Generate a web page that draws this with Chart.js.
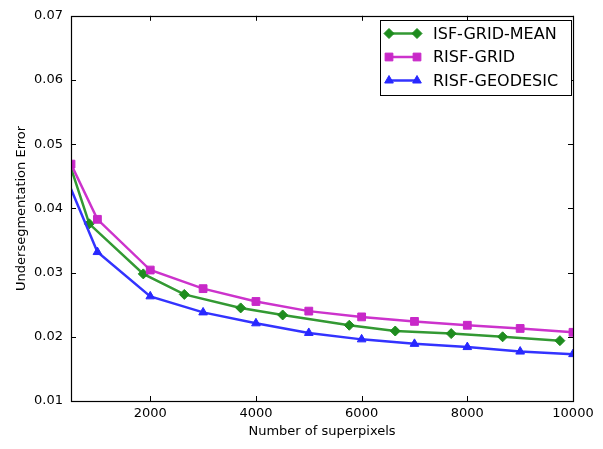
<!DOCTYPE html>
<html>
<head>
<meta charset="utf-8">
<script src="https://cdn.jsdelivr.net/npm/chart.js@4.4.1/dist/chart.umd.min.js"></script>
<style>
html,body{margin:0;padding:0;background:#fff;}
#wrap{width:603px;height:449px;position:relative;}
</style>
</head>
<body>
<div id="wrap"><canvas id="c" width="603" height="449"></canvas></div>
<script>
// ---- data ----
const seriesNames = ["ISF-GRID-MEAN", "RISF-GRID", "RISF-GEODESIC"];
const isfX  = [400, 846, 1868, 2644, 3711, 4506, 5766, 6636, 7695, 8668, 9752];
const isfY  = [0.0488, 0.0376, 0.0298, 0.0266, 0.0245, 0.0234, 0.0218, 0.0209, 0.0205, 0.0200, 0.0194];
const risfGridX = [500, 1000, 2000, 3000, 4000, 5000, 6000, 7000, 8000, 9000, 10000];
const risfGridY = [0.0469, 0.0383, 0.0304, 0.0275, 0.0255, 0.0240, 0.0231, 0.0224, 0.0218, 0.0213, 0.0207];
const risfGeoX  = [400, 1000, 2000, 3000, 4000, 5000, 6000, 7000, 8000, 9000, 10000];
const risfGeoY  = [0.0450, 0.0332, 0.0263, 0.0238, 0.0221, 0.0206, 0.0196, 0.0189, 0.0184, 0.0177, 0.0173];
const xTicks = [2000, 4000, 6000, 8000, 10000];
const yTicks = [0.01, 0.02, 0.03, 0.04, 0.05, 0.06, 0.07];

const FONT = "'DejaVu Sans', sans-serif";
const colors = ["rgb(51,153,51)", "rgb(204,51,204)", "rgb(51,51,255)"];
const markerColors = ["rgb(30,140,30)", "rgb(200,40,200)", "rgb(40,40,255)"];
const styles = ["rectRot", "rect", "triangle"];
const radii = [5, 5.5, 5];

function pts(xs, ys){ return xs.map((x,i)=>({x:x, y:ys[i]})); }

const datasets = [
  {label: seriesNames[0], data: pts(isfX, isfY)},
  {label: seriesNames[1], data: pts(risfGridX, risfGridY)},
  {label: seriesNames[2], data: pts(risfGeoX, risfGeoY)}
].map((d,i)=>Object.assign(d,{
  showLine:true, borderColor:colors[i], borderWidth:2.5,
  backgroundColor:markerColors[i], pointBorderColor:markerColors[i],
  pointStyle:styles[i], pointRadius:radii[i], pointBorderWidth:1,
  tension:0, order: 3-i
}));

const framePlugin = {
  id:'frame',
  afterDatasetsDraw(chart){
    const {ctx, chartArea:a, scales:{x, y}} = chart;
    ctx.save();
    ctx.strokeStyle = '#000';
    ctx.lineWidth = 1;
    ctx.beginPath();
    const L=5;
    xTicks.forEach(v=>{
      const px = Math.round(x.getPixelForValue(v))+0.5;
      ctx.moveTo(px, a.bottom); ctx.lineTo(px, a.bottom-L);
      ctx.moveTo(px, a.top); ctx.lineTo(px, a.top+L);
    });
    yTicks.forEach(v=>{
      const py = Math.round(y.getPixelForValue(v))+0.5;
      ctx.moveTo(a.left, py); ctx.lineTo(a.left+L, py);
      ctx.moveTo(a.right, py); ctx.lineTo(a.right-L, py);
    });
    ctx.stroke();
    ctx.lineWidth = 1.2;
    ctx.strokeRect(Math.round(a.left)+0.5, Math.round(a.top)+0.5, Math.round(a.right-a.left), Math.round(a.bottom-a.top));

    // legend
    const bx=380.5, by=20.5, bw=191, bh=75;
    ctx.fillStyle='#fff';
    ctx.fillRect(bx,by,bw,bh);
    ctx.lineWidth=1;
    ctx.strokeStyle='#000';
    ctx.strokeRect(bx,by,bw,bh);
    const rows=[33.5, 57, 80.5];
    ctx.font = "16px " + FONT;
    ctx.textBaseline='middle';
    ctx.textAlign='left';
    seriesNames.forEach((n,i)=>{
      const yy=rows[i];
      ctx.strokeStyle=colors[i]; ctx.lineWidth=2.5;
      ctx.beginPath(); ctx.moveTo(389,yy); ctx.lineTo(417,yy); ctx.stroke();
      [389,417].forEach(xx=>{
        ctx.fillStyle=markerColors[i];
        ctx.strokeStyle=markerColors[i];
        ctx.lineWidth=1;
        Chart.helpers.drawPoint(ctx,{pointStyle:styles[i], radius:radii[i], borderWidth:1}, xx, yy);
      });
      ctx.fillStyle='#000';
      ctx.fillText(n, 433, yy+1);
    });
    ctx.restore();
  }
};

new Chart(document.getElementById('c'), {
  type:'scatter',
  data:{datasets},
  options:{
    responsive:false, animation:false, devicePixelRatio:1,
    layout:{padding:{left:14, right:30, top:11, bottom:10}},
    plugins:{legend:{display:false}, tooltip:{enabled:false}},
    scales:{
      x:{
        type:'linear', min:500, max:10000,
        grid:{display:false, drawTicks:false},
        border:{display:false},
        afterBuildTicks(s){ s.ticks = xTicks.map(v=>({value:v})); },
        afterFit(s){ s.height = 38; },
        ticks:{color:'#000', font:{family:FONT, size:13}, padding:5, maxRotation:0,
          callback:(v)=>String(v)},
        title:{display:true, text:'Number of superpixels', color:'#000', font:{family:FONT, size:13}, padding:{top:1,bottom:0}}
      },
      y:{
        type:'linear', min:0.01, max:0.07,
        grid:{display:false, drawTicks:false},
        border:{display:false},
        afterBuildTicks(s){ s.ticks = yTicks.map(v=>({value:v})); },
        afterFit(s){ s.width = 57; },
        ticks:{color:'#000', font:{family:FONT, size:13}, padding:8,
          callback:(v)=>Number(v).toFixed(2)},
        title:{display:true, text:'Undersegmentation Error', color:'#000', font:{family:FONT, size:13}, padding:{top:0,bottom:4}}
      }
    }
  },
  plugins:[framePlugin]
});
</script>
</body>
</html>
